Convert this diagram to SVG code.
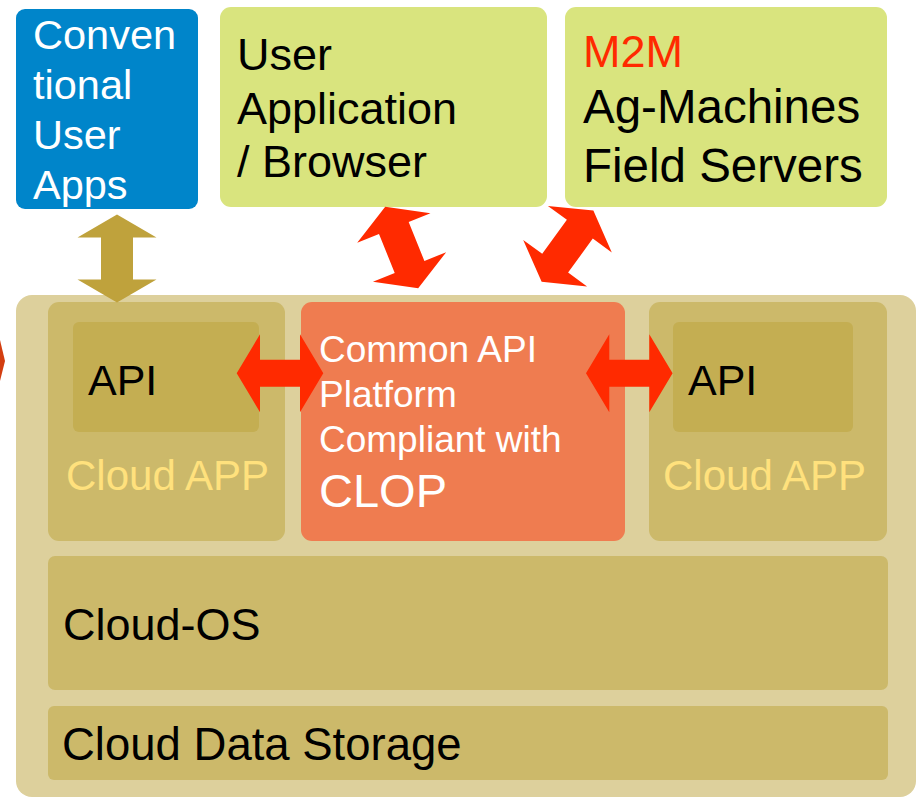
<svg xmlns="http://www.w3.org/2000/svg" width="921" height="798" viewBox="0 0 921 798">
  <style>
    text { font-family: "Liberation Sans", Arial, sans-serif; }
    .white { fill: #FFFFFF; }
    .black { fill: #000000; }
    .green { fill: #D9E47E; }
    .outer { fill: #DDD09C; }
    .inner { fill: #CCB96A; }
    .api { fill: #C4AE52; }
    .cloudapp { fill: #FFE17D; }
    .red { fill: #FF2A00; }
    .gold { fill: #BFA23C; }
  </style>
  <defs>
    <polygon id="dblV" points="0,-44 39.5,-21 16,-21 16,21 39.5,21 0,44 -39.5,21 -16,21 -16,-21 -39.5,-21"/>
    <polygon id="dblH" points="-43.3,0 -20,-39 -20,-13.5 20,-13.5 20,-39 43.3,0 20,39 20,13.5 -20,13.5 -20,39"/>
    <clipPath id="blueClip"><rect x="16" y="9" width="182" height="200" rx="9"/></clipPath>
  </defs>

  <!-- partial arrow at the left edge -->
  <polygon points="0,340 5,361 0,381" fill="#D33E10"/>

  <g id="cloud-container">
    <rect x="16" y="295" width="900" height="502" rx="16" class="outer"/>
  </g>

  <g id="conventional-user-apps">
    <rect x="16" y="9" width="182" height="200" rx="9" fill="#0085CA"/>
    <g clip-path="url(#blueClip)" class="white" font-size="41.5">
      <text x="33" y="49">Conven</text>
      <text x="33" y="99">tional</text>
      <text x="33" y="149">User</text>
      <text x="33" y="199">Apps</text>
    </g>
  </g>

  <g id="user-application">
    <rect x="220" y="7" width="327" height="200" rx="11" class="green"/>
    <g class="black" font-size="45">
      <text x="237" y="70">User</text>
      <text x="237" y="124">Application</text>
      <text x="237" y="177">/ Browser</text>
    </g>
  </g>

  <g id="m2m">
    <rect x="565" y="7" width="322" height="200" rx="11" class="green"/>
    <text x="583" y="67" font-size="45" fill="#FF2A00">M2M</text>
    <g class="black" font-size="47.5">
      <text x="583" y="123">Ag-Machines</text>
      <text x="583" y="182">Field Servers</text>
    </g>
  </g>

  <g id="cloud-app-left">
    <rect x="48" y="302" width="237" height="239" rx="11" class="inner"/>
    <rect x="73" y="322" width="186" height="110" rx="6" class="api"/>
    <text x="88" y="395" font-size="43" class="black">API</text>
    <text x="66" y="490" font-size="42" class="cloudapp">Cloud APP</text>
  </g>

  <g id="common-api-platform">
    <rect x="301" y="302" width="324" height="239" rx="11" fill="#EF7C50"/>
    <g class="white" font-size="37">
      <text x="319" y="362">Common API</text>
      <text x="319" y="407">Platform</text>
      <text x="319" y="452">Compliant with</text>
    </g>
    <text x="319" y="507" font-size="47" class="white">CLOP</text>
  </g>

  <g id="cloud-app-right">
    <rect x="649" y="302" width="238" height="239" rx="11" class="inner"/>
    <rect x="673" y="322" width="180" height="110" rx="6" class="api"/>
    <text x="688" y="395" font-size="43" class="black">API</text>
    <text x="663" y="490" font-size="42" class="cloudapp">Cloud APP</text>
  </g>

  <g id="cloud-os">
    <rect x="48" y="556" width="840" height="134" rx="7" class="inner"/>
    <text x="63" y="640" font-size="45" class="black">Cloud-OS</text>
  </g>

  <g id="cloud-data-storage">
    <rect x="48" y="706" width="840" height="74" rx="6" class="inner"/>
    <text x="62" y="760" font-size="45.5" class="black">Cloud Data Storage</text>
  </g>

  <g id="connectors">
    <use href="#dblV" class="gold" transform="translate(117,258.5)"/>
    <use href="#dblV" class="red" transform="translate(401.7,247.5) rotate(-22)"/>
    <use href="#dblV" class="red" transform="translate(567.5,246.2) rotate(36)"/>
    <use href="#dblH" class="red" transform="translate(280,373.3)"/>
    <use href="#dblH" class="red" transform="translate(629.3,373.3)"/>
  </g>
</svg>
